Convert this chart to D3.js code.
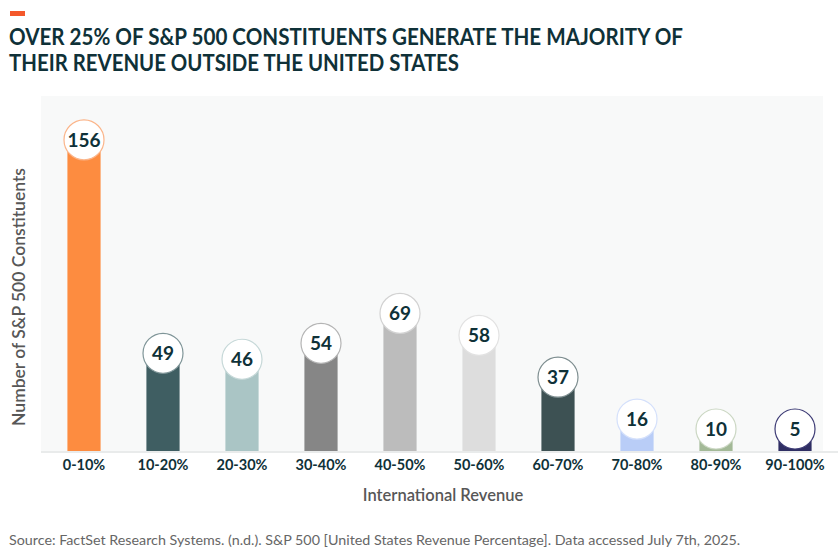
<!DOCTYPE html>
<html>
<head>
<meta charset="utf-8">
<script src="https://cdn.jsdelivr.net/npm/d3@7"></script>
<style>
  body { margin: 0; background: #fff; }
  text { font-family: Lato, "Open Sans", sans-serif; }
</style>
</head>
<body>
<svg id="chart"></svg>
<script>
const categories = ["0-10%", "10-20%", "20-30%", "30-40%", "40-50%", "50-60%", "60-70%", "70-80%", "80-90%", "90-100%"];
const counts = [156, 49, 46, 54, 69, 58, 37, 16, 10, 5];
const titleLines = ["OVER 25% OF S&P 500 CONSTITUENTS GENERATE THE MAJORITY OF", "THEIR REVENUE OUTSIDE THE UNITED STATES"];
const xTitle = "International Revenue";
const yTitle = "Number of S&P 500 Constituents";
const source = "Source: FactSet Research Systems. (n.d.). S&P 500 [United States Revenue Percentage]. Data accessed July 7th, 2025.";

const barColors = ["#fd8c40", "#3f5e62", "#aac5c5", "#868686", "#bcbcbc", "#dddddd", "#3d5153", "#b9cdf7", "#a3b997", "#2f2e63"];
const ringColors = ["#fbb58a", "#7f9598", "#c6d8d8", "#b4b4b4", "#d2d2d2", "#e2e2e2", "#7e8e90", "#d4e0fb", "#cbd7c3", "#3d3b75"];

const width = 838, height = 560;
const plot = {left: 41, right: 823, top: 96, bottom: 451};

const svg = d3.select("#chart").attr("width", width).attr("height", height);

// accent + title
svg.append("rect").attr("x", 10).attr("y", 11).attr("width", 15).attr("height", 5).attr("fill", "#f4582b");
const titleWidths = [674, 450];
svg.append("g").selectAll("text").data(titleLines).join("text")
    .attr("x", 9).attr("y", (d, i) => 45 + i * 25.5)
    .attr("font-size", 22.5).attr("font-weight", 700).attr("fill", "#0f3138")
    .attr("textLength", (d, i) => titleWidths[i]).attr("lengthAdjust", "spacingAndGlyphs")
    .text(d => d);

// plot background
svg.append("rect")
    .attr("x", plot.left).attr("y", plot.top)
    .attr("width", plot.right - plot.left).attr("height", plot.bottom - plot.top)
    .attr("fill", "#f8f9f9");

const x = d3.scaleBand().domain(categories).range([44.5, 834.5])
    .paddingInner(0.58).paddingOuter(0.29);
const y = d3.scaleLinear().domain([0, 178]).range([plot.bottom, plot.top]);

const g = svg.append("g");

g.selectAll("rect.bar").data(counts).join("rect")
    .attr("class", "bar")
    .attr("x", (d, i) => x(categories[i]))
    .attr("y", d => y(d))
    .attr("width", x.bandwidth())
    .attr("height", d => y(0) - y(d))
    .attr("fill", (d, i) => barColors[i]);

// baseline
svg.append("line")
    .attr("x1", plot.left).attr("x2", width)
    .attr("y1", plot.bottom + 1).attr("y2", plot.bottom + 1)
    .attr("stroke", "#e9ebeb").attr("stroke-width", 2);

const r = 20;
const cy = d => Math.min(y(d), y(0) - 22);
const labels = g.selectAll("g.lbl").data(counts).join("g")
    .attr("class", "lbl")
    .attr("transform", (d, i) => `translate(${x(categories[i]) + x.bandwidth() / 2},${cy(d)})`);
labels.append("circle").attr("r", r).attr("fill", "#fff")
    .attr("stroke", (d, i) => ringColors[i]).attr("stroke-width", 1.2);
labels.append("text").attr("text-anchor", "middle").attr("dy", "0.36em")
    .attr("font-size", 19).attr("font-weight", 700).attr("fill", "#0f3138")
    .text(d => d);

// x axis
const xAxis = svg.append("g")
    .attr("transform", `translate(0,${plot.bottom})`)
    .call(d3.axisBottom(x).tickSize(0).tickPadding(9));
xAxis.select(".domain").remove();
xAxis.selectAll("text")
    .attr("font-size", 14.5).attr("font-weight", 700).attr("fill", "#0f3138")
    .style("font-family", "Lato, sans-serif");

svg.append("text").attr("x", 443).attr("y", 501).attr("text-anchor", "middle")
    .attr("font-size", 16.5).attr("font-weight", 600).attr("fill", "#575757")
    .text(xTitle);

svg.append("text")
    .attr("transform", "translate(25,297) rotate(-90)")
    .attr("text-anchor", "middle")
    .attr("font-size", 17.5).attr("font-weight", 600).attr("fill", "#575757")
    .text(yTitle);

svg.append("text").attr("x", 9).attr("y", 545)
    .attr("font-size", 14.3).attr("fill", "#666")
    .text(source);
</script>
</body>
</html>
